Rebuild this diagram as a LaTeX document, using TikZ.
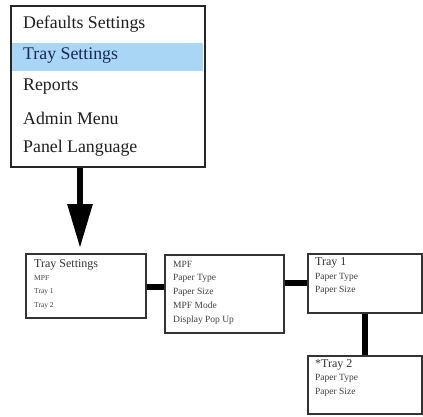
\documentclass[tikz,border=0pt]{standalone}
\usepackage{fontspec}
\setmainfont{Liberation Serif}
\usetikzlibrary{arrows.meta}
\definecolor{hl}{RGB}{170,214,246}
\definecolor{hltext}{RGB}{25,40,85}
\definecolor{txt}{RGB}{30,30,30}
\begin{document}
\begin{tikzpicture}[x=1pt,y=-1pt,
  menubox/.style={draw=black!85, line width=2pt, anchor=north west, inner sep=0pt},
  subbox/.style={draw=black!80, line width=1.5pt, anchor=north west, inner sep=0pt},
  bigtxt/.style={anchor=west, inner sep=0pt, text=txt, font=\fontsize{17.8}{21}\selectfont},
  hdtxt/.style={anchor=west, inner sep=0pt, text=black!80, font=\fontsize{12}{14}\selectfont},
  itemtxt/.style={anchor=west, inner sep=0pt, text=black!75, font=\fontsize{9.5}{11}\selectfont},
  smalltxt/.style={anchor=west, inner sep=0pt, text=black!75, font=\fontsize{7.5}{9}\selectfont},
  conn/.style={line width=6pt, black}]
\useasboundingbox (0,0) rectangle (423,416);
\fill[white] (0,0) rectangle (423,416);
% main menu
\fill[hl] (12,43) rectangle (203,71);
\node[menubox, minimum width=194pt, minimum height=161pt] (menu) at (10,5) {};
\node[bigtxt] (m1) at (23,24) {Defaults Settings};
\node[bigtxt, text=hltext] (m2) at (23,56) {Tray Settings};
\node[bigtxt] (m3) at (23,87) {Reports};
\node[bigtxt] (m4) at (23,118) {Admin Menu};
\node[bigtxt] (m5) at (23,148) {Panel Language};
% arrow
\coordinate (arrend) at (80,248);
\draw[conn, -{Triangle[width=24pt,length=44pt]}] (arrend |- menu.south) -- (arrend);
% box 2
\node[subbox, minimum width=120pt, minimum height=64pt] (b2) at (25,253) {};
\node[hdtxt] (b2a) at (34,265) {Tray Settings};
\node[smalltxt] (b2b) at (34,278) {MPF};
\node[smalltxt] (b2c) at (34,292) {Tray 1};
\node[smalltxt] (b2d) at (34,306) {Tray 2};
% box 3
\node[subbox, minimum width=119pt, minimum height=78pt] (b3) at (164,254) {};
\node[itemtxt] (b3a) at (173,264) {MPF};
\node[itemtxt] (b3b) at (173,278) {Paper Type};
\node[itemtxt] (b3c) at (173,292) {Paper Size};
\node[itemtxt] (b3d) at (173,305) {MPF Mode};
\node[itemtxt] (b3e) at (173,320) {Display Pop Up};
% box 4
\node[subbox, minimum width=114pt, minimum height=59pt] (b4) at (307,253) {};
\node[hdtxt] (b4a) at (315,263) {Tray 1};
\node[itemtxt] (b4b) at (315,277) {Paper Type};
\node[itemtxt] (b4c) at (315,290) {Paper Size};
% box 5
\node[subbox, minimum width=114pt, minimum height=58pt] (b5) at (307,355) {};
\node[hdtxt] (b5a) at (315,365) {*Tray 2};
\node[itemtxt] (b5b) at (315,378) {Paper Type};
\node[itemtxt] (b5c) at (315,392) {Paper Size};
% connectors
\draw[conn] ([yshift=-1pt]b2.east) -- ([yshift=-1pt]b2.east -| b3.west);
\draw[conn] (b3.east |- b4.west) -- (b4.west);
\draw[conn] (b4.south) -- (b5.north);
\end{tikzpicture}
\end{document}
